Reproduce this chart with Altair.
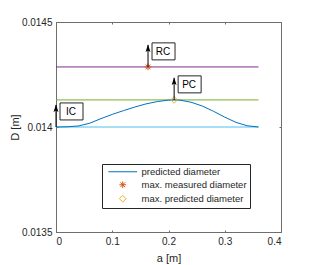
import altair as alt
import pandas as pd

# predicted diameter curve
curve_x = [0.0, 0.02, 0.04, 0.06, 0.08, 0.10, 0.12, 0.14, 0.16, 0.18, 0.20, 0.21,
           0.22, 0.24, 0.26, 0.28, 0.30, 0.32, 0.34, 0.36]
curve_d = [0.014000, 0.014001, 0.014005, 0.014018, 0.014040, 0.014060, 0.014078,
           0.014095, 0.014110, 0.014121, 0.014128, 0.014129, 0.014128, 0.014118,
           0.014100, 0.014075, 0.014047, 0.014022, 0.014006, 0.014000]

# reference horizontal lines
ref_names = ["IC", "PC", "RC"]
ref_d = [0.014000, 0.014129, 0.014286]
ref_colors = ["#4DBEEE", "#77AC30", "#7E2F8E"]
ref_x_start = 0.0
ref_x_end = 0.36

# markers
marker_names = ["max. measured diameter", "max. predicted diameter"]
marker_x = [0.1636, 0.21]
marker_d = [0.014286, 0.014129]

# annotations
ann_labels = ["IC", "RC", "PC"]
ann_x = [0.0, 0.1636, 0.21]
ann_d = [0.014000, 0.014286, 0.014129]
arrow_len = 0.000105

legend_names = ["predicted diameter", "max. measured diameter", "max. predicted diameter"]
legend_colors = ["#0072BD", "#D95319", "#EDB120"]

x_ticks = [0, 0.1, 0.2, 0.3, 0.4]
y_ticks = [0.0135, 0.014, 0.0145]

ASTERISK = "M-1,0L1,0M0,-1L0,1M-0.7,-0.7L0.7,0.7M-0.7,0.7L0.7,-0.7"
LINESYM = "M-4.3,0L4.3,0"
HEAD = "M0,-1L0.55,0.7L0,0.35L-0.55,0.7Z"

curve_df = pd.DataFrame({"x": curve_x, "d": curve_d})
ref_df = pd.DataFrame({"name": ref_names, "d": ref_d, "c": ref_colors,
                       "x": [ref_x_start] * 3, "x2": [ref_x_end] * 3})
mk_df = pd.DataFrame({"name": marker_names, "x": marker_x, "d": marker_d})
ann_df = pd.DataFrame({"label": ann_labels, "x": ann_x, "x2": ann_x, "d": ann_d})
ann_df["tip"] = ann_df["d"] + arrow_len

FONT = "Liberation Sans"
AXC = "#262626"
XS = alt.Scale(domain=[0, 0.4], nice=False, zero=False)
YS = alt.Scale(domain=[0.0135, 0.0145], nice=False, zero=False)

X_AXIS = alt.Axis(values=x_ticks, format=".1~f", title="a [m]", titleY=26,
                  titleBaseline="middle")
Y_AXIS = alt.Axis(values=y_ticks, format=".4~f", title="D [m]", titleX=-47,
                  titleY=105, titleBaseline="top")


def X(field="x"):
    return alt.X(f"{field}:Q", scale=XS, axis=X_AXIS)


def Y(field="d"):
    return alt.Y(f"{field}:Q", scale=YS, axis=Y_AXIS)


refs = alt.Chart(ref_df).mark_rule(strokeWidth=1).encode(
    x=X(), x2="x2:Q", y=Y(), color=alt.Color("c:N", scale=None)
)

curve = alt.Chart(curve_df).mark_line(color="#0072BD", strokeWidth=1).encode(x=X(), y=Y())

points = alt.Chart(mk_df).mark_point(filled=False, size=45, strokeWidth=1, opacity=1).encode(
    x=X(), y=Y(),
    color=alt.Color("name:N", scale=alt.Scale(domain=legend_names, range=legend_colors),
                    legend=alt.Legend(title=None, orient="none", legendX=46, legendY=142)),
    shape=alt.Shape("name:N", scale=alt.Scale(domain=legend_names,
                                              range=[LINESYM, ASTERISK, "diamond"]),
                    legend=alt.Legend(title=None, orient="none", legendX=46, legendY=142)),
)

arrows = alt.Chart(ann_df).mark_rule(color="black", strokeWidth=1).encode(
    x=X(), y=Y(), y2="tip:Q"
)
heads = alt.Chart(ann_df).mark_point(shape=HEAD, filled=True, color="black", size=80,
                                     yOffset=4, opacity=1).encode(x=X(), y=Y("tip"))
boxes = alt.Chart(ann_df).mark_rect(fill="white", stroke=AXC, strokeWidth=1,
                                    xOffset=4, x2Offset=27, yOffset=-2, y2Offset=15).encode(
    x=X(), x2="x2:Q", y=Y("tip"), y2="tip:Q"
)
texts = alt.Chart(ann_df).mark_text(font=FONT, fontSize=10, color="black", dx=15, dy=7,
                                    align="center", baseline="middle").encode(
    x=X(), y=Y("tip"), text="label:N"
)

main = alt.layer(refs, curve, points, arrows, heads, boxes, texts)


def tick_layer(xo, yo):
    return alt.Chart(curve_df).mark_line(opacity=0).encode(
        x=alt.X("x:Q", scale=XS, axis=alt.Axis(orient=xo, offset=-2, tickSize=2, ticks=True,
                                               labels=False, domain=False, title="",
                                               values=x_ticks)),
        y=alt.Y("d:Q", scale=YS, axis=alt.Axis(orient=yo, offset=-2, tickSize=2, ticks=True,
                                               labels=False, domain=False, title="",
                                               values=y_ticks)),
    )


chart = alt.layer(main, tick_layer("bottom", "left"), tick_layer("top", "right")).resolve_axis(
    x="independent", y="independent"
).properties(
    width=225, height=210,
    autosize=alt.AutoSizeParams(type="none"),
    padding={"left": 48, "top": 14, "right": 21, "bottom": 32},
).configure_view(
    stroke="#6e6e6e", strokeWidth=1
).configure_axis(
    grid=False, domainColor="#6e6e6e", tickColor="#6e6e6e", ticks=False,
    labelColor=AXC, labelFont=FONT, labelFontSize=10, labelPadding=4,
    titleFont=FONT, titleFontSize=11, titleFontWeight="normal", titleColor=AXC,
).configure_legend(
    strokeColor=AXC, fillColor="white", padding=3, symbolOffset=13,
    labelFont=FONT, labelFontSize=9.5, labelColor=AXC, symbolSize=45,
    symbolStrokeWidth=1, rowPadding=2, labelOffset=14
)

chart.save("out.html", embed_options={"renderer": "svg", "actions": False})
